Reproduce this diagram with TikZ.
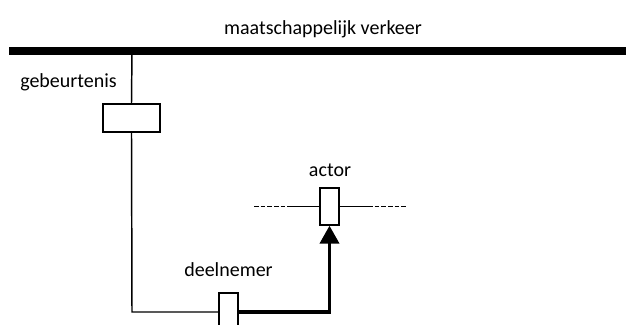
\documentclass[tikz,border=0pt]{standalone}
\usepackage{fontspec}
\setmainfont{Carlito}
\usetikzlibrary{arrows.meta}

\tikzset{every picture/.style={line width=1.1pt}}
\tikzset{
  bar/.style={line width=6pt},
  blok/.style={draw, line width=1.1pt, inner sep=0pt},
  label/.style={inner sep=0.75pt, font=\fontsize{15}{18}\selectfont},
  stippel/.style={dash pattern=on 3.5pt off 1.5pt},
  stroom/.style={line width=2.4pt, -{Triangle[length=13.5pt,width=14.5pt]}}
}

\begin{document}
\begin{tikzpicture}[x=0.75pt,y=0.75pt,yscale=-1,xscale=1]
\clip (0,0) rectangle (626,325);
\useasboundingbox (0,0) rectangle (626,325);

%Shape: Bar
\coordinate (barL) at (9,51);
\coordinate (barR) at (626,51);
\coordinate (aftak) at (132,51);
\draw [bar] (barL) -- (barR);

%Shape: Rectangles
\node [blok, minimum width=42.75pt, minimum height=21pt] (gebbox) at (131.5,118) {};
\node [blok, minimum width=14.25pt, minimum height=28.5pt] (deelbox) at (228.5,312) {};
\node [blok, minimum width=14.25pt, minimum height=27.75pt] (actorbox) at (329.5,206.5) {};

%Straight Lines
\coordinate (hoek) at (132,312);
\draw (aftak) -- (gebbox.north);
\draw (gebbox.south) -- (hoek) -- (deelbox.west);

%Straight Lines (actor)
\coordinate (stipL) at (254,206.5);
\coordinate (lijnL) at (290,206.5);
\coordinate (lijnR) at (368,206.5);
\coordinate (stipR) at (407,206.5);
\draw [stippel] (stipL) -- (lijnL);
\draw (lijnL) -- (actorbox.west);
\draw (actorbox.east) -- (lijnR);
\draw [stippel] (lijnR) -- (stipR);

%Thick Arrow
\draw [stroom] (deelbox.east) -| (actorbox.south);

% Text Node
\node [label] (verkeer) at (323,29) {maatschappelijk verkeer};
% Text Node
\node [label] (geblabel) at (68.5,82) {gebeurtenis};
% Text Node
\node [label] (deellabel) at (228.5,270) {deelnemer};
% Text Node
\node [label] (actorlabel) at (330,170) {actor};
\end{tikzpicture}
\end{document}
